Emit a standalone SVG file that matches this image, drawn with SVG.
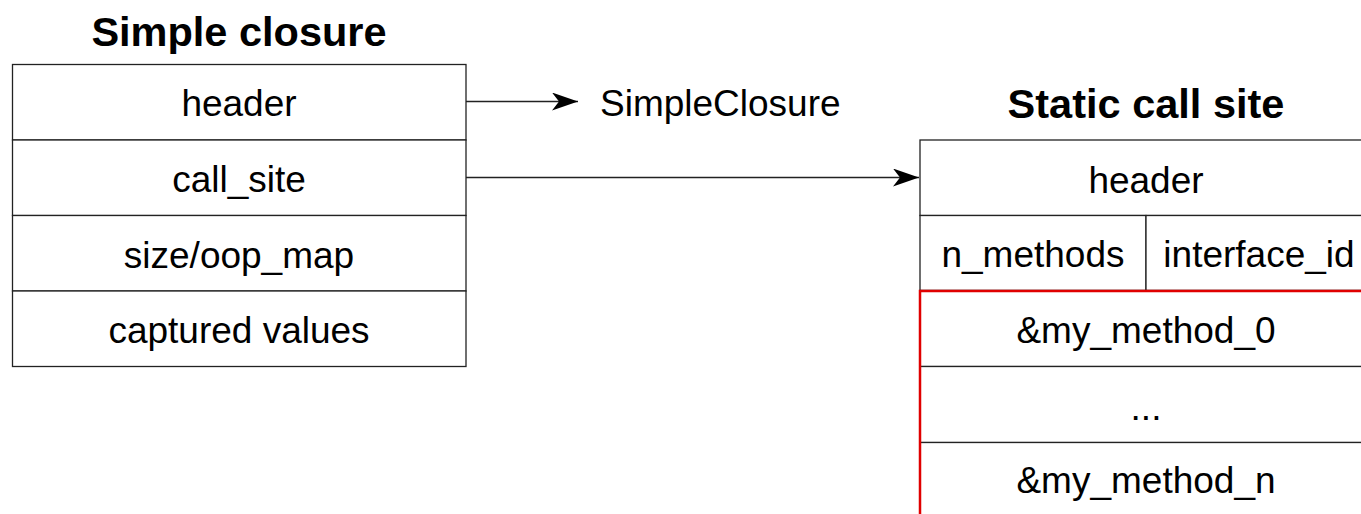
<svg xmlns="http://www.w3.org/2000/svg" width="1361" height="514" viewBox="0 0 1361 514">
<style>
.t{font-family:"Liberation Sans",Arial,sans-serif;font-size:37px;fill:#000;text-anchor:middle}
.title{font-family:"Liberation Sans",Arial,sans-serif;font-size:41.5px;font-weight:bold;fill:#000;text-anchor:middle}
.cell{fill:#fff;stroke:#222;stroke-width:1.3}
.conn{stroke:#222;stroke-width:1.3;fill:none}
</style>
<defs>
<marker id="arr" markerUnits="userSpaceOnUse" viewBox="0 0 26 18" refX="26" refY="9" markerWidth="26" markerHeight="18" orient="auto">
<path d="M0,0 L26,9 L0,18 L7,9 Z" fill="#000"/>
</marker>
</defs>
<rect width="1361" height="514" fill="#fff"/>
<g id="simple-closure">
<text class="title" x="239" y="46">Simple closure</text>
<rect class="cell" x="12.5" y="64.5" width="453.5" height="75.5"/>
<rect class="cell" x="12.5" y="140" width="453.5" height="75.5"/>
<rect class="cell" x="12.5" y="215.5" width="453.5" height="75.5"/>
<rect class="cell" x="12.5" y="291" width="453.5" height="75.5"/>
<text class="t" x="239" y="116">header</text>
<text class="t" x="239" y="192">call_site</text>
<text class="t" x="239" y="268">size/oop_map</text>
<text class="t" x="239" y="343">captured values</text>
</g>
<g id="simpleclosure-label">
<text x="600" y="116" style="font-family:'Liberation Sans',Arial,sans-serif;font-size:37px;fill:#000">SimpleClosure</text>
</g>
<g id="static-call-site">
<text class="title" x="1146" y="118">Static call site</text>
<rect class="cell" x="920" y="140" width="452" height="75.5"/>
<rect class="cell" x="920" y="215.5" width="226" height="75"/>
<rect class="cell" x="1146" y="215.5" width="226" height="75"/>
<rect class="cell" x="920" y="290.5" width="452" height="76"/>
<rect class="cell" x="920" y="366.5" width="452" height="76"/>
<rect class="cell" x="920" y="442.5" width="452" height="90"/>
<rect x="920" y="291" width="452" height="240" fill="none" stroke="#e00000" stroke-width="2.5"/>
<text class="t" x="1146" y="193">header</text>
<text class="t" x="1033" y="267">n_methods</text>
<text class="t" x="1259" y="267">interface_id</text>
<text class="t" x="1146" y="343">&amp;my_method_0</text>
<text class="t" x="1146" y="420">...</text>
<text class="t" x="1146" y="493">&amp;my_method_n</text>
</g>
<g id="connectors">
<line class="conn" x1="466" y1="101.5" x2="578" y2="101.5" marker-end="url(#arr)"/>
<line class="conn" x1="466" y1="177.5" x2="919" y2="177.5" marker-end="url(#arr)"/>
</g>
</svg>
